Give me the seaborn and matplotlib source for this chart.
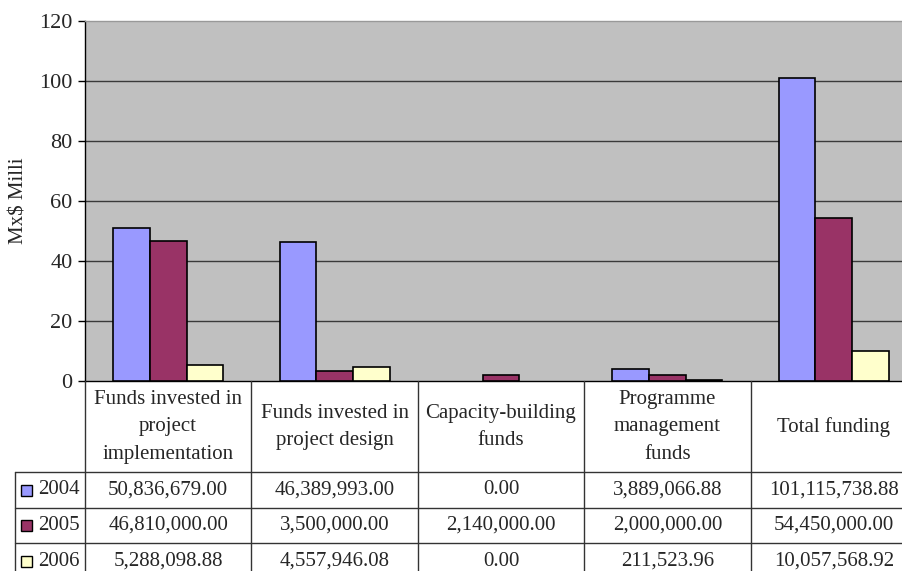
import matplotlib
matplotlib.use("Agg")
import matplotlib.pyplot as plt
import matplotlib.transforms as mtransforms
from matplotlib.patches import Rectangle
import seaborn as sns
import pandas as pd

categories = ["Funds invested in\nproject\nimplementation",
              "Funds invested in\nproject design",
              "Capacity-building\nfunds",
              "Programme\nmanagement\nfunds",
              "Total funding"]
years = ["2004", "2005", "2006"]
v2004 = [50836679.00, 46389993.00, 0.00, 3889066.88, 101115738.88]
v2005 = [46810000.00, 3500000.00, 2140000.00, 2000000.00, 54450000.00]
v2006 = [5288098.88, 4557946.08, 0.00, 211523.96, 10057568.92]
colors = ["#9999FF", "#993366", "#FFFFCC"]
yticks = [0, 20, 40, 60, 80, 100, 120]

series = [v2004, v2005, v2006]
rows = []
for y, vals in zip(years, series):
    for c, v in zip(categories, vals):
        rows.append({"cat": c, "year": y, "val": v / 1e6})
df = pd.DataFrame(rows)

sns.set_theme(style="white")
plt.rcParams["font.family"] = ["Liberation Serif", "DejaVu Serif"]
FS = 15

W, H = 902, 571
fig = plt.figure(figsize=(W / 100, H / 100), dpi=100)
x0, x1, ytop, ybot = 85, 917, 21, 381
ax = fig.add_axes([x0 / W, 1 - ybot / H, (x1 - x0) / W, (ybot - ytop) / H])
ax.set_facecolor("#C0C0C0")

sns.barplot(data=df, x="cat", y="val", hue="year", hue_order=years,
            order=categories, palette=colors, width=0.66, gap=0,
            edgecolor="black", linewidth=1.2, saturation=1, ax=ax,
            legend=False, zorder=3)
for p in ax.patches:
    if p.get_height() == 0:
        p.set_visible(False)

ax.set_xlim(-0.5, len(categories) - 0.5)
ax.set_ylim(0, 120)
ax.set_yticks(yticks)
ax.set_yticklabels([str(t) for t in yticks], fontsize=16)
ax.tick_params(axis="y", length=5, width=1, color="black", direction="out", pad=4, left=True)
ax.set_xticks([])
ax.set_xlabel("")
ax.set_ylabel("Mx\\$ Milli", fontsize=FS, labelpad=8)
for t in yticks[1:-1]:
    ax.axhline(t, color="#3a3a3a", lw=1.0, zorder=1)
ax.spines["left"].set_color("black")
ax.spines["left"].set_linewidth(1.0)
ax.spines["top"].set_color("#999999")
ax.spines["top"].set_linewidth(1.0)
ax.spines["bottom"].set_color("black")
ax.spines["bottom"].set_linewidth(1.0)
ax.spines["right"].set_visible(False)

# data table below the axes
tr = mtransforms.blended_transform_factory(ax.transData, fig.transFigure)
trf = fig.transFigure
def fy(py):
    return 1 - py / H

row_lines = [472, 508, 543]
row_centers = [490, 525.5, 561]
n = len(categories)
for i in range(n + 1):
    xb = i - 0.5
    fig.add_artist(plt.Line2D([xb, xb], [fy(381), fy(H + 5)], transform=tr,
                              color="#333333", lw=1.0, clip_on=False))
for py in row_lines:
    fig.add_artist(plt.Line2D([15 / W, 1.0], [fy(py), fy(py)], transform=trf,
                              color="#333333", lw=1.0))
fig.add_artist(plt.Line2D([15 / W, 15 / W], [fy(472), fy(H + 5)], transform=trf,
                          color="#333333", lw=1.0))
for i, c in enumerate(categories):
    fig.text(i, fy(427), c, transform=tr, ha="center", va="center",
             fontsize=FS, linespacing=1.6)
for r, (y, vals, col) in enumerate(zip(years, series, colors)):
    cy = row_centers[r]
    fig.add_artist(Rectangle((21 / W, fy(cy + 5.5)), 11 / W, 11 / H,
                             transform=trf, facecolor=col, edgecolor="black", lw=1.0))
    fig.text(38 / W, fy(cy), y, transform=trf, ha="left", va="center", fontsize=FS)
    for i, v in enumerate(vals):
        fig.text(i, fy(cy), f"{v:,.2f}", transform=tr, ha="center", va="center",
                 fontsize=FS)

fig.savefig("out.png", dpi=100)
